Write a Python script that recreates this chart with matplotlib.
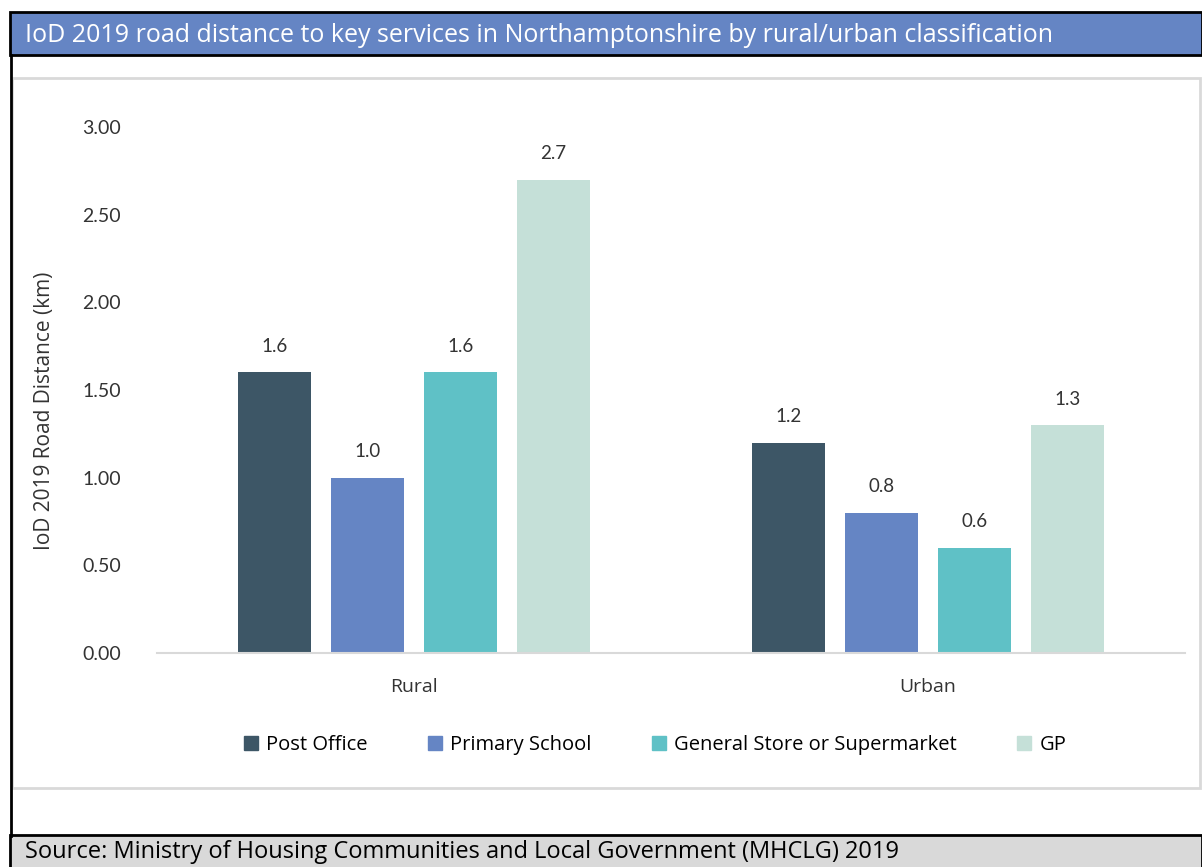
import matplotlib.pyplot as plt
import numpy as np
from matplotlib.patches import Rectangle
from matplotlib.lines import Line2D

# data
categories = ["Rural", "Urban"]
series = ["Post Office", "Primary School", "General Store or Supermarket", "GP"]
values = {
    "Post Office": [1.6, 1.2],
    "Primary School": [1.0, 0.8],
    "General Store or Supermarket": [1.6, 0.6],
    "GP": [2.7, 1.3],
}
colors = ["#3D5666", "#6585C4", "#5FC1C6", "#C5E0D8"]
yticks = [0.0, 0.5, 1.0, 1.5, 2.0, 2.5, 3.0]

title = "IoD 2019 road distance to key services in Northamptonshire by rural/urban classification"
source = "Source: Ministry of Housing Communities and Local Government (MHCLG) 2019"

W, H = 1202, 867
fig = plt.figure(figsize=(W / 100, H / 100), dpi=100)


def fx(px):
    return px / W


def fy(py):
    return 1 - py / H


# header bar, frame and source band
fig.patches.append(Rectangle((fx(10), fy(55)), fx(1202 - 10), fy(12) - fy(55),
                             transform=fig.transFigure, facecolor="#6585C4",
                             edgecolor="black", linewidth=2))
fig.text(fx(25), fy(35), title, color="white", fontsize=18,
         family="Open Sans", va="center", ha="left")
fig.patches.append(Rectangle((fx(12), fy(788)), fx(1200 - 12), fy(78) - fy(788),
                             transform=fig.transFigure, facecolor="none",
                             edgecolor="#D9D9D9", linewidth=2))
fig.lines.append(Line2D([fx(11), fx(11)], [fy(55), fy(836)],
                        transform=fig.transFigure, color="black", linewidth=2))
fig.patches.append(Rectangle((fx(10), fy(880)), fx(1202 - 10), fy(835) - fy(880),
                             transform=fig.transFigure, facecolor="#D9D9D9",
                             edgecolor="black", linewidth=2))
fig.text(fx(25), fy(852), source, color="black", fontsize=17,
         family="Open Sans", va="center", ha="left")

# chart
ax = fig.add_axes([fx(157), fy(653), fx(1185 - 157), fy(127) - fy(653)])
ax.patch.set_alpha(0)
x = np.arange(len(categories))
step = 0.181
width = 0.142
for i, name in enumerate(series):
    pos = x + (i - 1.5) * step
    bars = ax.bar(pos, values[name], width, color=colors[i], label=name, zorder=2)
    for b, v in zip(bars, values[name]):
        ax.annotate("{:.1f}".format(v), (b.get_x() + b.get_width() / 2, v),
                    xytext=(0, 26), textcoords="offset pixels", ha="center",
                    va="center", fontsize=13.5, family="Lato", color="#333333")

ax.set_xlim(-0.5, 1.5)
ax.set_ylim(0, 3.0)
ax.set_yticks(yticks)
ax.set_yticklabels(["{:.2f}".format(t) for t in yticks], family="Lato",
                   fontsize=14, color="#333333")
ax.set_xticks(x)
ax.set_xticklabels(categories, family="Open Sans", fontsize=14, color="#333333")
ax.tick_params(axis="y", length=0, pad=26)
ax.tick_params(axis="x", length=0, pad=18)
for s in ["top", "right", "left"]:
    ax.spines[s].set_visible(False)
ax.spines["bottom"].set_color("#D9D9D9")
ax.spines["bottom"].set_linewidth(1.5)
ax.set_ylabel("IoD 2019 Road Distance (km)", family="Open Sans", fontsize=15,
              color="#333333")
ax.yaxis.set_label_coords(fx(55 - 157) / fx(1185 - 157), 0.46)

handles = [Rectangle((0, 0), 1, 1, color=c) for c in colors]
fig.legend(handles, series, loc="center", bbox_to_anchor=(fx(655), fy(745)),
           ncol=4, frameon=False, prop={"family": "Open Sans", "size": 14.5},
           handlelength=0.7, handleheight=0.7, handletextpad=0.4,
           columnspacing=3.0)

fig.savefig("out.png", dpi=100)
